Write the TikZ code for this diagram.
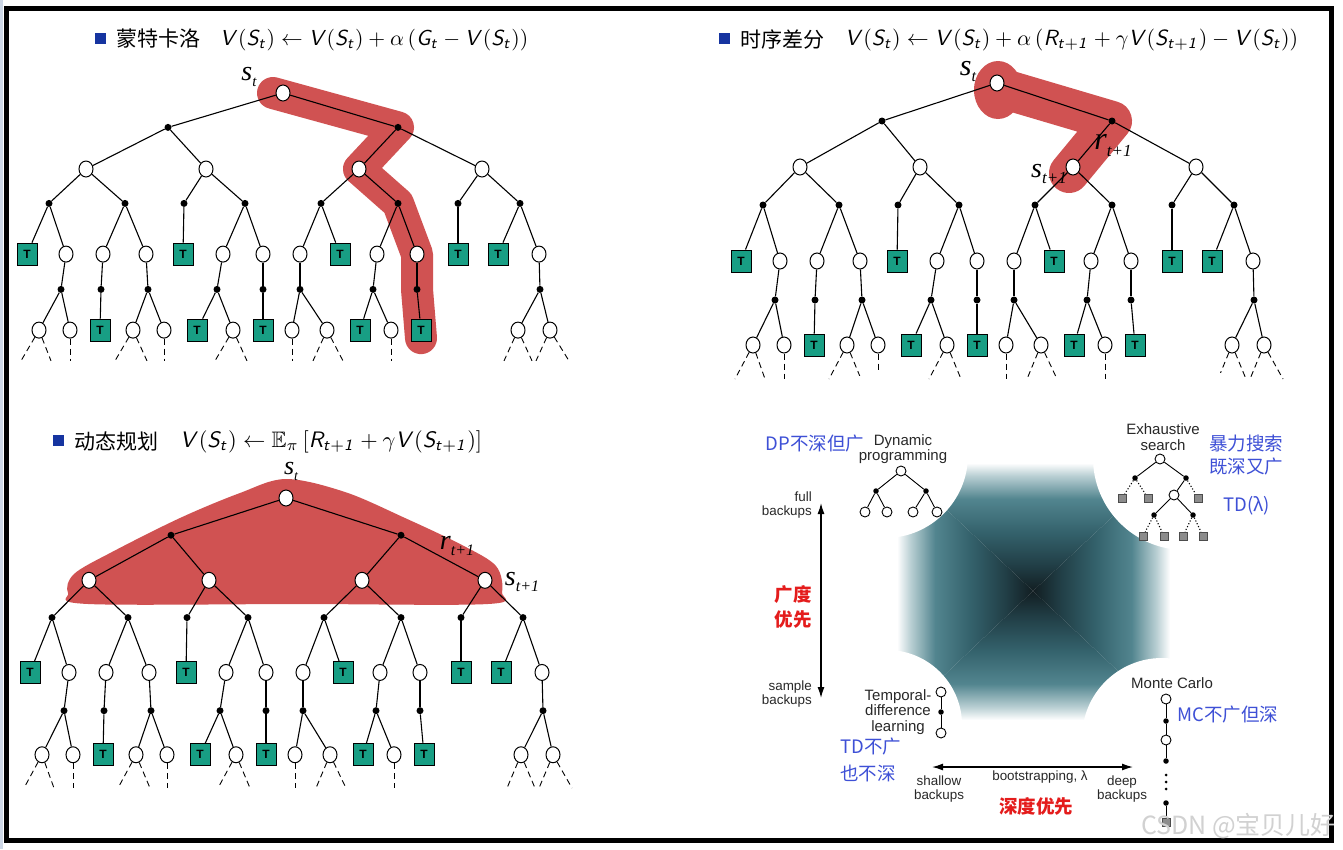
\documentclass[tikz,border=0pt]{standalone}
\usepackage{amsmath,amssymb}
\usepackage{graphicx}
\usepackage{fontspec}
\setmainfont{Liberation Sans}
\newfontfamily\cjk{Noto Sans CJK SC}
\newfontfamily\tms{Liberation Serif}
\usetikzlibrary{arrows.meta,shapes.geometric}
\DeclareMathAlphabet{\mathsfsl}{OT1}{cmss}{m}{sl}
\definecolor{tealT}{RGB}{24,158,132}
\definecolor{hlred}{RGB}{208,82,82}
\definecolor{bulblue}{RGB}{22,52,160}
\definecolor{annblue}{RGB}{62,80,214}
\definecolor{annred}{RGB}{228,28,28}
\definecolor{txtgray}{RGB}{40,40,40}
\definecolor{gdark}{RGB}{18,30,34}
\definecolor{gdtwo}{RGB}{33,62,70}
\definecolor{gmid}{RGB}{52,98,108}
\definecolor{gteal}{RGB}{82,133,143}
\definecolor{glight}{RGB}{185,207,211}
\definecolor{sqgray}{RGB}{140,140,140}
\definecolor{stripc}{RGB}{205,215,230}
\pgfdeclareverticalshading{pyr}{100bp}{color(0bp)=(gdark); color(25bp)=(gdark); color(35bp)=(gdtwo); color(48bp)=(gmid); color(61bp)=(gteal); color(70bp)=(glight); color(75bp)=(white); color(100bp)=(white)}
\pgfdeclarelayer{bg}
\pgfsetlayers{bg,main}
\tikzset{
  st/.style={draw, fill=white, ellipse, minimum width=14pt, minimum height=16pt, inner sep=0pt, line width=1pt},
  ac/.style={circle, fill=black, minimum size=7pt, inner sep=0pt},
  tm/.style={draw, fill=tealT, rectangle, minimum width=20pt, minimum height=22pt, inner sep=0pt, line width=0.9pt, font=\bfseries\fontsize{12}{12}\selectfont},
  edge/.style={line width=1.1pt},
  dsh/.style={line width=0.9pt, dash pattern=on 6pt off 4pt},
  hl/.style={draw=hlred, line cap=round, line join=round},
  lb/.style={font=\tms\itshape, inner sep=0pt},
  bul/.style={rectangle, fill=bulblue, minimum size=11pt, inner sep=0pt},
  cjt/.style={font=\cjk\fontsize{21}{21}\selectfont, inner sep=0pt, text=black},
  ann/.style={font=\cjk\fontsize{18.5}{19}\selectfont, text=annblue, inner sep=0pt},
  red/.style={font=\cjk\bfseries\fontsize{18.5}{19}\selectfont, text=annred, inner sep=0pt},
  labA/.style={font=\fontsize{15}{15.5}\selectfont, text=txtgray, inner sep=0pt},
  labB/.style={font=\fontsize{13.4}{14.5}\selectfont, text=txtgray, inner sep=0pt},
  mst/.style={draw, fill=white, circle, minimum size=10pt, inner sep=0pt, line width=0.9pt},
  mac/.style={circle, fill=black, minimum size=5.5pt, inner sep=0pt},
  msq/.style={draw=black!70, fill=sqgray, rectangle, minimum size=8pt, inner sep=0pt, line width=0.6pt},
  medge/.style={line width=0.9pt},
  mdot/.style={line width=1.1pt, dotted},
  arr/.style={line width=1.3pt, {Latex[length=11pt,width=7pt]}-{Latex[length=11pt,width=7pt]}},
}
\newcommand\bktree[4]{%
\begin{scope}[shift={(#2,#3)},yscale=#4]
\foreach \n/\x/\y in {r/0/0,s1/-197/84,s2/-77/84,s3/76/84,s4/199/84,s112/-217/178,s121/-180/178,s122/-137/178,s221/-60/178,s222/-20/178,s311/17/178,s321/94/178,s322/134/178,s422/256/178,c1/-244/262,c2/-213/262,c3/-150/262,c4/-119/262,c5/-50/262,c6/9/262,c7/44/262,c8/108/262,c9/235/262,c10/267/262}
  \node[st] (#1\n) at (\x,\y) {};
\foreach \n/\x/\y in {a1/-115/38,a2/115/38,a11/-234/122,a12/-158/122,a21/-99/122,a22/-38/122,a31/38/122,a32/115/122,a41/175/122,a42/237/122,b1/-222/217,b2/-182/217,b3/-135/217,b4/-66/217,b5/-20/217,b6/17/217,b7/90/217,b8/134/217,b9/257/217}
  \node[ac] (#1\n) at (\x,\y) {};
\foreach \n/\x/\y in {t111/-256/178,t211/-100/178,t312/57/178,t411/175/178,t421/215/178,u1/-183/262,u2/-86/262,u3/-20/262,u4/77/262,u5/138/262}
  \node[tm] (#1\n) at (\x,\y) {T};
\foreach \n/\x in {e1/-262,e2/-232,e3/-213,e4/-168,e5/-136,e6/-119,e7/-68,e8/-36,e9/9,e10/30,e11/60,e12/108,e13/221,e14/249,e15/253,e16/286}
  \coordinate (#1\n) at (\x,296);
\foreach \a/\b in {r/a1,r/a2,a1/s1,a1/s2,a2/s3,a2/s4,s1/a11,s1/a12,s2/a21,s2/a22,s3/a31,s3/a32,s4/a41,s4/a42,a11/t111,a11/s112,a12/s121,a12/s122,a21/t211,a22/s221,a22/s222,a31/s311,a31/t312,a32/s321,a32/s322,a41/t411,a42/t421,a42/s422,s112/b1,s121/b2,s122/b3,s221/b4,s222/b5,s311/b6,s321/b7,s322/b8,s422/b9,b1/c1,b1/c2,b2/u1,b3/c3,b3/c4,b4/u2,b4/c5,b5/u3,b6/c6,b6/c7,b7/u4,b7/c8,b8/u5,b9/c9,b9/c10}
  \draw[edge] (#1\a) -- (#1\b);
\foreach \a/\b in {c1/e1,c1/e2,c2/e3,c3/e4,c3/e5,c4/e6,c5/e7,c5/e8,c6/e9,c7/e10,c7/e11,c8/e12,c9/e13,c9/e14,c10/e15,c10/e16}
  \draw[dsh] (#1\a) -- (#1\b);
\end{scope}}
\begin{document}
\begin{tikzpicture}[x=1pt,y=-1pt]
\useasboundingbox (0,0) rectangle (1343,849);
\begin{pgfonlayer}{bg}
\fill[white] (0,0) rectangle (1343,849);
\fill[stripc] (0,0) rectangle (3,849);
\end{pgfonlayer}
\draw[line width=5pt] (6,8) rectangle (1331,840);

% ---------- titles
\node[bul] (bu1) at (100,38) {};
\node[cjt, anchor=west] (ti1) at (116,39) {蒙特卡洛};
\node[anchor=west, inner sep=0pt] (fo1) at (220,40) {\resizebox{308pt}{!}{$\mathsfsl{V(S_t) \leftarrow V(S_t) + \alpha\,(G_t - V(S_t))}$}};
\node[bul] (bu2) at (724,38) {};
\node[cjt, anchor=west] (ti2) at (740,39) {时序差分};
\node[anchor=west, inner sep=0pt] (fo2) at (845,40) {\resizebox{453pt}{!}{$\mathsfsl{V(S_t) \leftarrow V(S_t) + \alpha\,(R_{t+1} + \gamma V(S_{t+1}) - V(S_t))}$}};
\node[bul] (bu3) at (58,440) {};
\node[cjt, anchor=west] (ti3) at (74,441) {动态规划};
\node[anchor=west, inner sep=0pt] (fo3) at (180,442) {\resizebox{302pt}{!}{$\mathsfsl{V(S_t)} \leftarrow \mathbb{E}_\pi\,[\mathsfsl{R_{t+1}} + \gamma\mathsfsl{V(S_{t+1})}]$}};

% ---------- trees
\bktree{m}{283}{93}{0.905}
\bktree{t}{997}{83}{1}
\bktree{d}{286}{498}{0.98}

% highlights
\begin{pgfonlayer}{bg}
\draw[hl, line width=32pt] ([xshift=-10pt]mr.center) -- (ma2.center) -- (ms3.center) -- (ma32.center) -- (ms322.center) -- (mb8.center) -- ([yshift=-8pt]mu5.center);
\fill[hlred] ([xshift=1pt,yshift=-7pt]tr.center) ellipse (24pt and 29pt);
\draw[hl, line width=40pt] ([yshift=-4pt]tr.center) -- (ta2.center) -- ([xshift=-4pt,yshift=-6pt]ts3.center);
\fill[hlred] plot[smooth cycle, tension=0.55] coordinates {(286,479) (345,492) (405,518) (462,545) (496,566) (502,592) (488,604) (300,604) (88,604) (68,593) (74,574) (112,552) (180,518) (240,493)};
\end{pgfonlayer}

% tree labels
\node[lb] (lmst) at (249,77) {\fontsize{28}{28}\selectfont s\raisebox{-6pt}{\fontsize{15}{15}\selectfont t}};
\node[lb] (ltst) at (968,72) {\fontsize{30}{30}\selectfont s\raisebox{-6pt}{\fontsize{16}{16}\selectfont t}};
\node[lb] (ltrt) at (1113,146) {\fontsize{32}{32}\selectfont r\raisebox{-7pt}{\fontsize{17}{17}\selectfont t+1}};
\node[lb] (ltst1) at (1049,174) {\fontsize{28}{28}\selectfont s\raisebox{-6pt}{\fontsize{17}{17}\selectfont t+1}};
\node[lb] (ldst) at (291,471) {\fontsize{26}{26}\selectfont s\raisebox{-6pt}{\fontsize{14}{14}\selectfont t}};
\node[lb] (ldrt) at (457,546) {\fontsize{28}{28}\selectfont r\raisebox{-6pt}{\fontsize{16}{16}\selectfont t+1}};
\node[lb] (ldst1) at (522,582) {\fontsize{28}{28}\selectfont s\raisebox{-6pt}{\fontsize{16}{16}\selectfont t+1}};

% ---------- unified view
\coordinate (gc) at (1033,591);
\coordinate (g1) at (897,463);
\coordinate (g2) at (1170,463);
\coordinate (g3) at (1170,720);
\coordinate (g4) at (897,720);
\shade[shading=pyr] (g1) -- (g2) -- (gc) -- cycle;
\shade[shading=pyr, shading angle=180] (g4) -- (g3) -- (gc) -- cycle;
\shade[shading=pyr, shading angle=90] (g1) -- (g4) -- (gc) -- cycle;
\shade[shading=pyr, shading angle=270] (g2) -- (g3) -- (gc) -- cycle;
\fill[white] (885,455) circle (83pt);
\fill[white] (1185,458) circle (92pt);
\fill[white] (887,725) circle (75pt);
\fill[white] (1162,738) circle (80pt);

% axes
\coordinate (vt) at (821,503);
\coordinate (vb) at (821,698);
\draw[arr] (vt) -- (vb);
\coordinate (hl) at (932,767);
\coordinate (hr) at (1133,767);
\draw[arr] (hl) -- (hr);
\node[labB, anchor=east, align=right] (fullb) at (812,505) {full\\backups};
\node[labB, anchor=east, align=right] (sampb) at (812,694) {sample\\backups};
\node[labB, align=center] (shalb) at (939,789) {shallow\\backups};
\node[labB, align=center] (deepb) at (1122,789) {deep\\backups};
\node[labB] (boot) at (1040,777) {bootstrapping, λ};

% DP mini tree
\node[labA, align=center] (dpn) at (903,449) {Dynamic\\programming};
\node[mst] (dp0) at (901,471) {};
\node[mac] (dp1) at (876,491) {};
\node[mac] (dp2) at (926,491) {};
\node[mst] (dp11) at (865,512) {};
\node[mst] (dp12) at (887,512) {};
\node[mst] (dp21) at (913,512) {};
\node[mst] (dp22) at (937,512) {};
\foreach \a/\b in {dp0/dp1,dp0/dp2,dp1/dp11,dp1/dp12,dp2/dp21,dp2/dp22} \draw[medge] (\a) -- (\b);

% Exhaustive search
\node[labA, align=center] (exn) at (1163,437) {Exhaustive\\search};
\node[mst] (ex0) at (1160,459) {};
\node[mac] (exa1) at (1135,478) {};
\node[mac] (exa2) at (1186,478) {};
\node[msq] (exq1) at (1122,498) {};
\node[msq] (exq2) at (1148,498) {};
\node[mst] (exs) at (1174,495) {};
\node[msq] (exq3) at (1198,498) {};
\node[mac] (exb1) at (1154,515) {};
\node[mac] (exb2) at (1193,515) {};
\node[msq] (exq4) at (1143,536) {};
\node[msq] (exq5) at (1164,536) {};
\node[msq] (exq6) at (1183,536) {};
\node[msq] (exq7) at (1203,536) {};
\foreach \a/\b in {ex0/exa1,ex0/exa2,exa2/exs,exs/exb1,exs/exb2} \draw[medge] (\a) -- (\b);
\foreach \a/\b in {exa1/exq1,exa1/exq2,exa2/exq3,exb1/exq4,exb1/exq5,exb2/exq6,exb2/exq7} \draw[mdot] (\a) -- (\b);

% TD mini
\node[labA, align=center] (tdn) at (898,712) {Temporal-\\difference\\learning};
\node[mst] (td0) at (941,692) {};
\node[mac] (td1) at (941,712) {};
\node[mst] (td2) at (941,733) {};
\draw[medge] (td0) -- (td1);
\draw[medge] (td1) -- (td2);

% MC chain
\node[labA] (mcn) at (1172,683) {Monte Carlo};
\node[mst] (mc0) at (1166,699) {};
\node[mac] (mc1) at (1166,721) {};
\node[mst] (mc2) at (1166,740) {};
\node[mac] (mc3) at (1166,761) {};
\node[circle, fill=black, minimum size=3pt, inner sep=0pt] (mcd1) at (1166,775) {};
\node[circle, fill=black, minimum size=3pt, inner sep=0pt] (mcd2) at (1166,782) {};
\node[circle, fill=black, minimum size=3pt, inner sep=0pt] (mcd3) at (1166,789) {};
\node[mac] (mc4) at (1166,803) {};
\node[msq] (mc5) at (1166,822) {};
\foreach \a/\b in {mc0/mc1,mc1/mc2,mc2/mc3,mc4/mc5} \draw[medge] (\a) -- (\b);

% annotations
\node[ann] (adp) at (815,444) {DP不深但广};
\node[ann, anchor=west] (aex1) at (1209,443) {暴力搜索};
\node[ann, anchor=west] (aex2) at (1209,467) {既深又广};
\node[ann, anchor=west] (atdl) at (1223,506) {TD(λ)};
\node[ann, anchor=west] (amc) at (1177,715) {MC不广但深};
\node[ann, anchor=west] (atd1) at (840,747) {TD不广};
\node[ann, anchor=west] (atd2) at (840,773) {也不深};
\node[red] (rw1) at (793,595) {广度};
\node[red] (rw2) at (793,620) {优先};
\node[red] (rd) at (1036,806) {深度优先};

% watermark
\node[font=\cjk\fontsize{25}{25}\selectfont, text=black!18, anchor=west, inner sep=0pt] (wm) at (1141,826) {CSDN @宝贝儿好};
\end{tikzpicture}
\end{document}
